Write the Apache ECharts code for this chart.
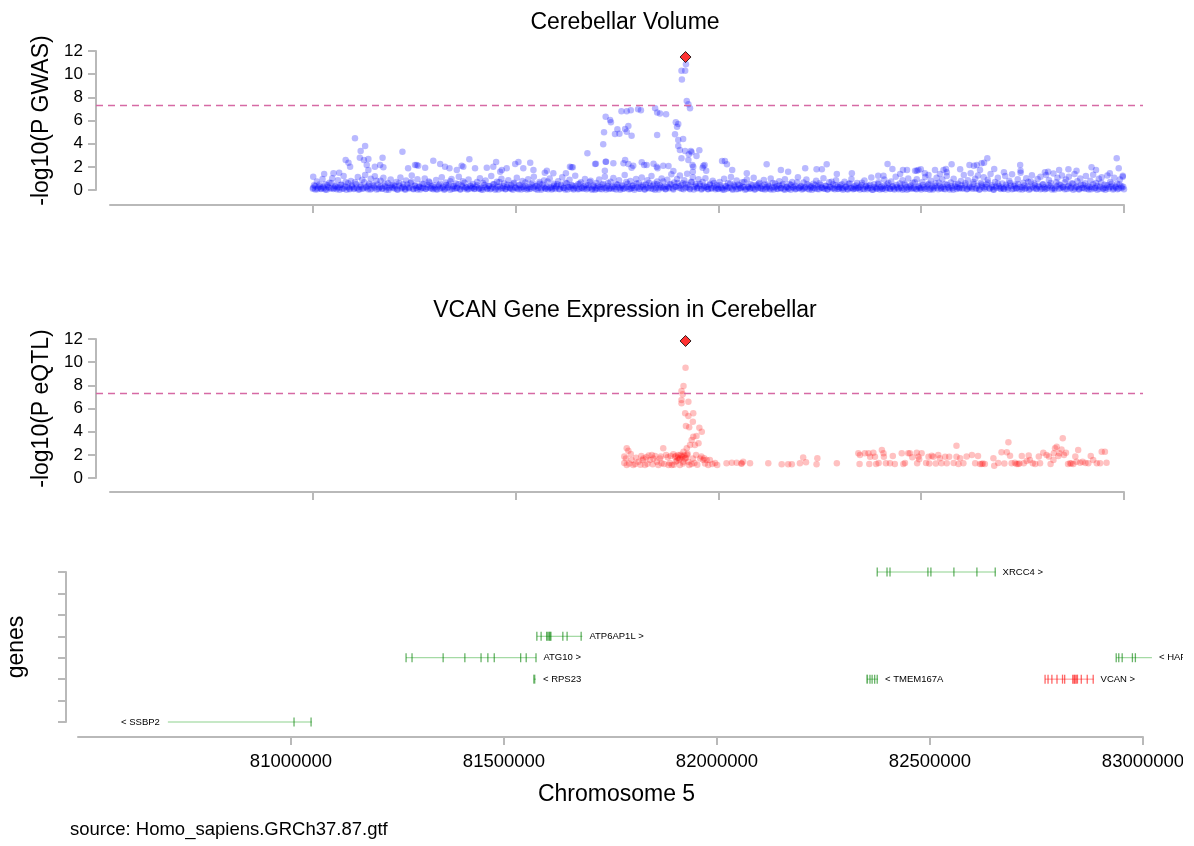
<!DOCTYPE html>
<html>
<head>
<meta charset="utf-8">
<script src="https://cdn.jsdelivr.net/npm/echarts@6/dist/echarts.min.js"></script>
<style>
  html, body { margin: 0; padding: 0; background: #fff; }
  #chart { width: 1183px; height: 846px; }
</style>
</head>
<body>
<div id="chart"></div>
<script>
// positions are in kb on chromosome 5, values are -log10(p)
const gwasBase = [
  [81000,.1],[81003,.42],[81006,.05],[81010,.73],[81013,.2],[81017,.31],[81020,.08],[81024,.95],[81027,.15],[81031,.5],[81034,.03],[81038,.26],[81041,.62],[81045,.12],[81048,1.02],[81052,.18],[81055,.37],[81059,.06],[81062,.84],[81066,.22],[81069,.45],[81073,.1],[81076,1.2],[81080,.3],[81083,.02],[81087,.58],[81090,.14],[81094,.77],[81097,.25],
  [81101,.09],[81104,.66],[81108,.2],[81111,1.12],[81115,.04],[81118,.4],[81122,.88],[81125,.16],[81129,1.3],[81132,.28],[81136,.07],[81139,.55],[81143,.97],[81146,.13],[81150,.34],[81153,1.18],[81157,.05],[81160,.48],[81164,.21],[81167,.79],[81171,.11],[81174,1.05],[81178,.32],[81181,.02],[81185,.6],[81188,.17],[81192,.9],[81195,.27],[81199,.44],
  [81202,.12],[81206,.7],[81209,.03],[81213,.36],[81216,1.08],[81220,.19],[81223,.5],[81227,.08],[81230,.83],[81234,.24],[81237,.14],[81241,.61],[81244,1.25],[81248,.06],[81251,.39],[81255,.17],[81258,.92],[81262,.29],[81265,.04],[81269,.53],[81272,.2],[81276,1.0],[81279,.1],[81283,.45],[81286,.74],[81290,.15],[81293,.33],[81297,.07],
  [81300,.22],[81304,.86],[81307,.05],[81311,.41],[81314,.13],[81318,1.1],[81321,.27],[81325,.09],[81328,.64],[81332,.18],[81335,.47],[81339,.02],[81342,.95],[81346,.3],[81349,.11],[81353,.57],[81356,.2],[81360,1.15],[81363,.06],[81367,.38],[81370,.76],[81374,.14],[81377,.25],[81381,.04],[81384,.9],[81388,.33],[81391,.16],[81395,.52],[81398,.08],
  [81402,.28],[81405,.69],[81409,.1],[81412,1.02],[81416,.19],[81419,.03],[81423,.44],[81426,.81],[81430,.15],[81433,.35],[81437,.06],[81440,1.2],[81444,.23],[81447,.5],[81451,.12],[81454,.72],[81458,.04],[81461,.31],[81465,.97],[81468,.17],[81472,.56],[81475,.09],[81479,.26],[81482,.85],[81486,.13],[81489,.4],[81493,.02],[81496,.63],
  [81500,.18],[81503,1.06],[81507,.07],[81510,.46],[81514,.21],[81517,.78],[81521,.11],[81524,.34],[81528,.05],[81531,.92],[81535,.25],[81538,.14],[81542,.6],[81545,1.14],[81549,.09],[81552,.37],[81556,.19],[81559,.7],[81563,.03],[81566,.48],[81570,.82],[81573,.16],[81577,.29],[81580,.06],[81584,.99],[81587,.23],[81591,.12],[81594,.54],[81598,.08],
  [81601,.32],[81605,.75],[81608,.1],[81612,.43],[81615,1.1],[81619,.17],[81622,.04],[81626,.58],[81629,.27],[81633,.88],[81636,.13],[81640,.36],[81643,.05],[81647,1.22],[81650,.2],[81654,.49],[81657,.09],[81661,.67],[81664,.15],[81668,.3],[81671,.96],[81675,.07],[81678,.41],[81682,.22],[81685,.8],[81689,.11],[81692,.38],[81696,.03],[81699,.6],
  [81702,.14],[81706,.9],[81709,.26],[81713,.06],[81716,.52],[81720,1.15],[81723,.19],[81727,.35],[81730,.08],[81734,.71],[81737,.12],[81741,1.04],[81744,.28],[81748,.04],[81751,.46],[81755,.84],[81758,.16],[81762,.33],[81765,.1],[81769,1.3],[81772,.21],[81776,.55],[81779,.07],[81783,.78],[81786,.18],[81790,.4],[81793,.02],[81797,.95],
  [81800,.24],[81804,.6],[81807,.11],[81811,1.08],[81814,.3],[81818,.05],[81821,.47],[81825,.85],[81828,.15],[81832,.37],[81835,1.2],[81839,.09],[81842,.53],[81846,.2],[81849,.73],[81853,.04],[81856,.42],[81860,1.0],[81863,.17],[81867,.29],[81870,.06],[81874,.88],[81877,.23],[81881,.5],[81884,1.35],[81888,.12],[81891,.65],[81895,.27],[81898,.95],
  [81902,.33],[81905,1.25],[81909,.1],[81912,.58],[81916,.85],[81919,.2],[81923,1.4],[81926,.44],[81930,.07],[81933,.72],[81937,1.1],[81940,.25],[81944,.5],[81947,.14],[81951,.92],[81954,.36],[81958,.04],[81961,.68],[81965,.18],[81968,1.02],[81972,.28],[81975,.09],[81979,.55],[81982,.16],[81986,.8],[81989,.3],[81993,.06],[81996,.42],
  [82000,.13],[82003,.7],[82007,.22],[82010,.05],[82014,.98],[82017,.34],[82021,.11],[82024,.6],[82028,.19],[82031,1.12],[82035,.03],[82038,.45],[82042,.27],[82045,.82],[82049,.08],[82052,.38],[82056,.15],[82059,.66],[82063,.24],[82066,.02],[82070,.9],[82073,.31],[82077,.12],[82080,.5],[82084,.2],[82087,1.05],[82091,.07],[82094,.43],[82098,.17],
  [82101,.62],[82105,.1],[82108,.35],[82112,.87],[82115,.05],[82119,.26],[82122,.48],[82126,.14],[82129,1.0],[82133,.21],[82136,.04],[82140,.57],[82143,.32],[82147,.09],[82150,.76],[82154,.18],[82157,.4],[82161,.06],[82164,.93],[82168,.25],[82171,.12],[82175,.52],[82178,.03],[82182,.7],[82185,.2],[82189,.36],[82192,.08],[82196,1.1],[82199,.15],
  [82203,.29],[82206,.05],[82210,.64],[82213,.17],[82217,.9],[82220,.1],[82224,.39],[82227,.22],[82231,.02],[82234,.55],[82238,.13],[82241,.8],[82245,.3],[82248,.07],[82252,.46],[82255,.19],[82259,1.02],[82262,.11],[82266,.34],[82269,.04],[82273,.67],[82276,.23],[82280,.14],[82283,.5],[82287,.06],[82290,.85],[82294,.27],[82297,.1],
  [82300,.4],[82304,.16],[82307,.03],[82311,.72],[82314,.25],[82318,.09],[82321,.53],[82325,.18],[82328,.95],[82332,.06],[82335,.31],[82339,.12],[82342,.6],[82346,.2],[82349,.04],[82353,.44],[82356,.1],[82360,.82],[82363,.27],[82367,.07],[82370,.37],[82374,.15],[82377,1.08],[82381,.02],[82384,.5],[82388,.22],[82391,.11],[82395,.66],[82398,.05],
  [82402,.3],[82405,.14],[82409,.9],[82412,.04],[82416,.47],[82419,.2],[82423,.08],[82426,.74],[82430,.33],[82433,.12],[82437,1.15],[82440,.24],[82444,.06],[82447,.56],[82451,.17],[82454,.85],[82458,.1],[82461,.4],[82465,.03],[82468,1.0],[82472,.27],[82475,.13],[82479,.62],[82482,.19],[82486,.08],[82489,.93],[82493,.35],[82496,.15],
  [82500,.05],[82503,.7],[82507,.22],[82510,1.12],[82514,.11],[82517,.45],[82521,.03],[82524,.8],[82528,.28],[82531,.16],[82535,.58],[82538,1.05],[82542,.07],[82545,.36],[82549,.19],[82552,.9],[82556,.1],[82559,.5],[82563,1.2],[82566,.24],[82570,.04],[82573,.65],[82577,.15],[82580,.98],[82584,.31],[82587,.09],[82591,.55],[82594,.2],[82598,.77],
  [82601,.12],[82605,1.3],[82608,.38],[82612,.06],[82615,.84],[82619,.21],[82622,1.45],[82626,.1],[82629,.52],[82633,.97],[82636,.17],[82640,1.25],[82643,.04],[82647,.61],[82650,.3],[82654,1.1],[82657,.08],[82661,.47],[82664,.88],[82668,.14],[82671,1.38],[82675,.25],[82678,.05],[82682,.7],[82685,.19],[82689,1.05],[82692,.33],[82696,.09],
  [82700,.56],[82703,.13],[82707,1.2],[82710,.27],[82714,.04],[82717,.8],[82721,.36],[82724,1.35],[82728,.1],[82731,.48],[82735,.18],[82738,.92],[82742,.06],[82745,1.48],[82749,.22],[82752,.62],[82756,.11],[82759,1.02],[82763,.3],[82766,.03],[82770,.74],[82773,1.28],[82777,.16],[82780,.42],[82784,.08],[82787,.95],[82791,.25],[82794,1.15],[82798,.12],
  [82801,.5],[82805,.07],[82808,1.3],[82812,.2],[82815,.85],[82819,.33],[82822,.04],[82826,1.42],[82829,.15],[82833,.66],[82836,1.05],[82840,.1],[82843,.4],[82847,1.25],[82850,.22],[82854,.06],[82857,.9],[82861,.3],[82864,1.15],[82868,.13],[82871,.58],[82875,.02],[82878,1.38],[82882,.26],[82885,.75],[82889,.09],[82892,1.0],[82896,.18],[82899,.45],
  [82903,.11],[82906,1.2],[82910,.35],[82913,.05],[82917,.8],[82920,.24],[82924,1.32],[82927,.14],[82931,.6],[82934,.03],[82938,.98],[82941,.28],[82945,1.1],[82948,.08],[82952,.46],[82955,.19],[82959,1.25],[82962,.1],[82966,.7],[82969,.3],[82973,.04],[82976,1.05],[82980,.21],[82983,.55],[82987,.12],[82990,.9],[82994,.33],[82997,1.15],[83000,.06]
];

// second layer of weak SNPs that makes the solid strip near zero
const gwasDense = [
  [81001,.2],[81006,.35],[81011,.06],[81016,.48],[81021,.12],[81026,.28],[81031,.04],[81036,.4],[81041,.16],[81046,.6],[81051,.09],[81056,.3],[81061,.22],[81066,.03],[81071,.45],[81076,.14],[81081,.7],[81086,.25],[81091,.07],[81096,.38],
  [81102,.15],[81107,.5],[81112,.04],[81117,.27],[81122,.1],[81127,.66],[81132,.19],[81137,.36],[81142,.05],[81147,.44],[81152,.21],[81157,.8],[81162,.08],[81167,.31],[81172,.13],[81177,.55],[81182,.24],[81187,.02],[81192,.42],[81197,.17],
  [81203,.33],[81208,.07],[81213,.58],[81218,.14],[81223,.26],[81228,.03],[81233,.47],[81238,.2],[81243,.72],[81248,.11],[81253,.37],[81258,.05],[81263,.29],[81268,.18],[81273,.52],[81278,.09],[81283,.23],[81288,.64],[81293,.12],[81298,.4],
  [81304,.06],[81309,.3],[81314,.55],[81319,.17],[81324,.02],[81329,.43],[81334,.25],[81339,.76],[81344,.1],[81349,.34],[81354,.15],[81359,.49],[81364,.04],[81369,.27],[81374,.62],[81379,.19],[81384,.08],[81389,.38],[81394,.22],[81399,.11],
  [81405,.41],[81410,.16],[81415,.05],[81420,.6],[81425,.23],[81430,.09],[81435,.35],[81440,.13],[81445,.5],[81450,.03],[81455,.28],[81460,.7],[81465,.14],[81470,.32],[81475,.06],[81480,.45],[81485,.2],[81490,.11],[81495,.57],[81499,.24],
  [81504,.12],[81509,.39],[81514,.04],[81519,.26],[81524,.65],[81529,.17],[81534,.08],[81539,.47],[81544,.21],[81549,.33],[81554,.02],[81559,.54],[81564,.15],[81569,.29],[81574,.1],[81579,.73],[81584,.19],[81589,.05],[81594,.36],[81599,.22],
  [81603,.5],[81608,.07],[81613,.3],[81618,.18],[81623,.62],[81628,.04],[81633,.25],[81638,.43],[81643,.13],[81648,.34],[81653,.06],[81658,.57],[81663,.2],[81668,.1],[81673,.4],[81678,.15],[81683,.68],[81688,.03],[81693,.27],[81698,.12],
  [81703,.37],[81708,.09],[81713,.46],[81718,.2],[81723,.05],[81728,.6],[81733,.16],[81738,.31],[81743,.11],[81748,.52],[81753,.24],[81758,.03],[81763,.4],[81768,.14],[81773,.7],[81778,.27],[81783,.08],[81788,.35],[81793,.18],[81798,.56],
  [81804,.1],[81809,.29],[81814,.45],[81819,.06],[81824,.21],[81829,.63],[81834,.13],[81839,.38],[81844,.02],[81849,.5],[81854,.19],[81859,.26],[81864,.74],[81869,.09],[81874,.33],[81879,.15],[81884,.48],[81889,.05],[81894,.28],[81899,.6],
  [81904,.17],[81909,.42],[81914,.07],[81919,.55],[81924,.23],[81929,.12],[81934,.66],[81939,.04],[81944,.32],[81949,.19],[81954,.51],[81959,.1],[81964,.36],[81969,.25],[81974,.06],[81979,.44],[81984,.14],[81989,.61],[81994,.2],[81999,.09],
  [82004,.4],[82009,.15],[82014,.03],[82019,.3],[82024,.22],[82029,.57],[82034,.11],[82039,.35],[82044,.06],[82049,.48],[82054,.18],[82059,.27],[82064,.69],[82069,.09],[82074,.24],[82079,.13],[82084,.42],[82089,.04],[82094,.31],[82099,.55],
  [82104,.2],[82109,.08],[82114,.47],[82119,.14],[82124,.33],[82129,.05],[82134,.6],[82139,.23],[82144,.1],[82149,.38],[82154,.16],[82159,.52],[82164,.02],[82169,.29],[82174,.12],[82179,.44],[82184,.26],[82189,.07],[82194,.64],[82199,.19],
  [82204,.35],[82209,.11],[82214,.25],[82219,.5],[82224,.04],[82229,.3],[82234,.17],[82239,.43],[82244,.08],[82249,.58],[82254,.21],[82259,.13],[82264,.37],[82269,.06],[82274,.28],[82279,.71],[82284,.15],[82289,.4],[82294,.09],[82299,.24],
  [82304,.49],[82309,.12],[82314,.3],[82319,.04],[82324,.56],[82329,.2],[82334,.1],[82339,.38],[82344,.15],[82349,.27],[82354,.62],[82359,.07],[82364,.34],[82369,.18],[82374,.45],[82379,.03],[82384,.26],[82389,.13],[82394,.52],[82399,.22],
  [82404,.08],[82409,.36],[82414,.19],[82419,.6],[82424,.11],[82429,.28],[82434,.05],[82439,.44],[82444,.16],[82449,.31],[82454,.02],[82459,.55],[82464,.23],[82469,.1],[82474,.39],[82479,.14],[82484,.67],[82489,.06],[82494,.25],[82499,.18],
  [82504,.43],[82509,.09],[82514,.3],[82519,.53],[82524,.13],[82529,.04],[82534,.35],[82539,.2],[82544,.62],[82549,.11],[82554,.27],[82559,.07],[82564,.46],[82569,.17],[82574,.32],[82579,.03],[82584,.5],[82589,.24],[82594,.12],[82599,.4],
  [82604,.16],[82609,.58],[82614,.08],[82619,.33],[82624,.21],[82629,.7],[82634,.1],[82639,.37],[82644,.05],[82649,.48],[82654,.19],[82659,.26],[82664,.64],[82669,.12],[82674,.41],[82679,.03],[82684,.3],[82689,.55],[82694,.15],[82699,.22],
  [82704,.09],[82709,.45],[82714,.2],[82719,.61],[82724,.06],[82729,.34],[82734,.14],[82739,.5],[82744,.25],[82749,.04],[82754,.39],[82759,.17],[82764,.72],[82769,.11],[82774,.29],[82779,.57],[82784,.13],[82789,.36],[82794,.07],[82799,.47],
  [82804,.23],[82809,.1],[82814,.42],[82819,.6],[82824,.15],[82829,.05],[82834,.32],[82839,.5],[82844,.18],[82849,.27],[82854,.66],[82859,.08],[82864,.38],[82869,.21],[82874,.54],[82879,.12],[82884,.3],[82889,.04],[82894,.45],[82899,.19],
  [82904,.58],[82909,.14],[82914,.26],[82919,.07],[82924,.49],[82929,.2],[82934,.35],[82939,.1],[82944,.63],[82949,.16],[82954,.03],[82959,.41],[82964,.24],[82969,.55],[82974,.12],[82979,.31],[82984,.06],[82989,.47],[82994,.18],[82998,.28]
];

const gwasHigh = [
  [81104,4.46],[81129,3.8],[81118,3.37],[81116,2.79],[81137,2.68],[81126,2.59],[81081,2.59],[81088,2.36],[81092,2.01],
  [81221,3.3],[81172,2.79],[81297,2.53],[81386,2.65],[81452,2.42],[81507,2.42],[81499,2.24],[81536,2.36],
  [81001,1.15],[81028,1.38],[81051,1.44],[81065,1.5],[81153,2.01],[81166,2.16],[81174,1.96],[81133,2.16],[81137,1.73],
  [81235,1.87],[81256,2.16],[81277,1.93],[81314,2.24],[81326,2.01],[81337,1.87],[81355,1.73],[81371,2.01],[81400,1.87],
  [81445,2.01],[81462,1.58],[81478,1.87],[81544,1.73],[81572,1.5],[81593,1.44],
  [81252,2.16],[81260,2.1],[81367,2.1],[81429,1.93],[81466,1.73],[81519,1.87],[81577,1.67],[81634,2.01],[81638,1.96],
  [81624,1.44],[81696,2.24],[81723,2.44],[81741,2.3],[81790,2.1],[81823,2.16],[81848,2.01],[81864,2.1],
  [81938,2.01],[81937,1.58],[81963,2.1],[81970,1.67],[82016,2.5],[82119,2.22],[82070,1.44],[82154,1.73],[82172,1.58],
  [81920,10.85],[81909,10.3],[81918,10.3],[81910,9.55],[81922,7.68],[81926,7.4],[81930,7.05],
  [81761,6.8],[81774,6.8],[81784,6.88],[81802,6.97],[81809,6.88],[81844,7.05],[81849,6.7],[81856,6.6],[81871,6.53],
  [81722,6.33],[81733,6.04],[81735,5.84],[81718,4.98],[81751,5.24],[81745,4.83],[81756,4.86],[81770,5.27],[81778,5.53],
  [81774,5.03],[81786,4.69],[81716,3.94],[81677,3.17],[81849,4.75],
  [81895,5.84],[81901,5.7],[81898,5.47],[81893,4.81],[81901,4.32],[81913,4.4],[81901,3.8],[81905,3.45],[81918,3.37],
  [81932,3.37],[81927,3.08],[81934,3.25],[81953,3.43],[81946,2.94],[81909,2.74],[81926,2.59],[81936,2.16],[81966,2.16],
  [81961,1.93],[82009,2.5],[82021,2.22],[82034,1.73],[81770,2.59],[81766,2.3],[81778,2.24],[81786,1.93],[81722,2.44],
  [81698,2.27],[81720,1.67],[81811,2.39],[81817,2.16],[81840,2.27],[81850,1.87],[81877,2.07],[81889,1.64],[81641,1.96],
  [82267,2.22],[82417,2.24],[82429,1.81],[82455,1.73],[82465,1.73],[82485,1.67],[82493,1.73],[82499,1.79],[82534,1.73],
  [82555,1.73],[82561,1.81],[82575,2.22],[82596,1.79],[82619,2.16],[82630,2.1],[82637,2.16],[82645,1.73],[82649,2.3],
  [82655,2.36],[82663,2.74],[82680,1.81],[82704,1.53],[82744,2.16],[82745,1.67],[82805,1.53],[82813,1.58],[82840,1.73],
  [82863,1.79],[82883,1.67],[82920,1.96],[82931,1.73],[82982,2.74],[82987,1.87],[82997,1.23],[82965,1.44],
  [82214,1.87],[82242,1.79],[82255,1.79],[82292,1.38],[82329,1.44],[82394,1.23],[82407,1.23],[82448,1.38],[82489,1.67],
  [82509,1.44],[82518,1.3],[82546,1.38],[82563,1.53]
];

const gwasLead = [81919, 11.48];

const eqtlSnps = [
  [81774,2.56],[81778,2.36],[81774,1.12],[81772,1.69],[81784,2.07],[81786,1.55],[81790,1.12],[81803,1.41],[81813,1.55],
  [81815,1.69],[81819,1.12],[81831,1.55],[81836,1.99],[81840,1.69],[81844,1.89],[81848,1.41],[81852,1.12],[81856,1.69],
  [81860,1.27],[81864,2.56],[81871,1.99],[81877,1.12],[81885,1.12],[81893,1.84],[81895,1.41],[81901,1.99],[81905,1.69],
  [81909,1.89],[81905,1.12],[81914,2.27],[81914,1.41],[81918,1.69],[81922,2.56],[81923,1.99],[81926,1.41],[81930,2.85],
  [81928,1.12],[81934,3.28],[81938,3.57],[81937,1.69],[81942,2.85],[81946,3.63],[81945,1.99],[81951,3.0],[81953,4.34],
  [81959,4.0],[81955,1.69],[81963,1.55],[81971,1.55],[81975,1.12],[81979,1.55],[81997,1.12],
  [81919,9.52],[81914,7.94],[81909,7.51],[81912,7.23],[81909,6.73],[81909,6.45],[81926,6.59],[81918,5.59],[81926,5.35],
  [81938,5.59],[81937,4.86],[81920,4.49],[81928,4.38],
  [81895,1.9],[81900,1.75],[81903,1.6],[81907,2.0],[81911,1.8],[81916,1.95],[81920,1.75],[81924,2.1],[81898,1.5],[81913,1.25],
  [81768,1.3],[81780,1.25],[81795,1.2],[81808,1.15],[81825,1.22],[81838,1.18],[81866,1.2],[81880,1.3],[81890,1.15],
  [81934,1.2],[81941,1.3],[81948,1.15],[81967,1.25],[81985,1.2],[81992,1.3],[81768,1.85],[81797,1.75],[81810,1.9],
  [81822,1.8],[81828,1.95],[81858,1.85],[81875,1.8],[81882,1.9],[81889,2.05],[81958,1.85],[81965,1.7],
  [82020,1.27],[82033,1.32],[82045,1.32],[82057,1.27],[82057,1.24],[82061,1.41],[82078,1.27],[82123,1.27],[82156,1.18],
  [82172,1.18],[82181,1.18],[82201,1.27],[82209,1.76],[82216,1.35],[82244,1.7],[82242,1.18],[82292,1.27],
  [82345,2.13],[82349,1.99],[82348,1.21],[82361,2.13],[82370,2.13],[82374,1.84],[82372,1.21],[82382,2.19],[82386,1.84],
  [82389,1.21],[82403,2.42],[82407,2.13],[82408,1.84],[82413,1.27],[82423,1.27],[82435,1.21],[82452,2.13],[82456,1.21],
  [82468,2.13],[82472,2.13],[82489,2.19],[82493,1.84],[82490,1.27],[82495,1.61],[82501,2.13],[82518,1.84],[82526,1.93],
  [82530,1.84],[82542,1.99],[82546,1.7],[82550,1.27],[82559,1.84],[82563,1.27],[82569,1.84],[82587,2.79],[82587,1.84],
  [82592,1.21],[82596,1.7],[82604,1.27],[82625,1.99],[82633,1.27],
  [82649,1.21],[82657,1.21],[82678,1.7],[82680,1.06],[82698,2.22],[82711,2.22],[82715,3.08],[82719,1.93],[82723,1.27],
  [82731,1.32],[82739,1.21],[82748,1.9],[82753,1.27],[82760,1.47],[82768,1.55],[82775,1.27],[82781,1.21],[82793,1.27],
  [82801,2.19],[82809,1.99],[82819,1.21],[82826,1.55],[82827,2.13],[82830,2.56],[82834,2.7],[82841,2.13],[82846,2.47],
  [82849,3.43],[82852,1.99],[82857,2.19],[82867,1.27],[82875,1.21],[82883,1.41],[82887,2.42],[82892,1.32],[82898,1.41],
  [82912,1.27],[82924,1.55],[82933,1.27],[82941,1.27],[82945,2.27],[82953,2.27],[82957,1.32],
  [82645,1.2],[82652,1.25],[82735,1.2],[82742,1.25],[82862,1.2],[82870,1.25],[82520,1.25],[82460,1.3],[82395,1.3],
  [82430,1.9],[82478,1.8],[82512,1.3],[82536,1.25],[82580,1.3],[82612,1.85],[82640,1.9],[82690,1.3],[82705,1.25],
  [82765,1.95],[82790,1.85],[82815,1.85],[82838,1.9],[82880,1.85],[82905,1.3],[82918,1.9]
];

const eqtlLead = [81919, 11.83];
const gwsThreshold = 7.3;

const tickPositions = [81000000, 81500000, 82000000, 82500000, 83000000];
const geneRowTicks = [0, 1, 2, 3, 4, 5, 6, 7];

const geneNames = ['SSBP2', 'ATG10', 'RPS23', 'ATP6AP1L', 'XRCC4', 'TMEM167A', 'VCAN', 'HAPLN1'];
const geneStart = [80711, 81270, 81570, 81577, 82376, 82352, 82770, 82937];
const geneEnd = [81049, 81576, 81575, 81684, 82654, 82378, 82884, 83021];
const geneRow = [0, 3, 2, 4, 7, 2, 2, 3];
const geneStrand = ['<', '>', '<', '>', '>', '<', '>', '<'];
const geneExons = [
  [[81007, 81008], [81047, 81049]],
  [[81270, 81271], [81284, 81285], [81357, 81358], [81408, 81409], [81446, 81447], [81462, 81463], [81477, 81478], [81539, 81542], [81552, 81553], [81575, 81576]],
  [[81570, 81575]],
  [[81577, 81578], [81587, 81588], [81600, 81601], [81603, 81604], [81606, 81607], [81608, 81609], [81610, 81611], [81638, 81639], [81648, 81649], [81681, 81684]],
  [[82376, 82377], [82399, 82400], [82406, 82407], [82495, 82496], [82502, 82503], [82556, 82557], [82610, 82611], [82653, 82654]],
  [[82352, 82356], [82359, 82360], [82364, 82365], [82370, 82371], [82376, 82377]],
  [[82770, 82771], [82777, 82778], [82786, 82787], [82798, 82799], [82811, 82813], [82816, 82818], [82835, 82837], [82838, 82840], [82840, 82842], [82843, 82845], [82846, 82848], [82855, 82856], [82869, 82870], [82883, 82884]],
  [[82937, 82940], [82943, 82945], [82951, 82952], [82975, 82976], [82982, 82983]]
];
const highlightGene = 'VCAN';
const labelOnLeft = ['SSBP2'];

const FONT = 'Liberation Sans, Arial, sans-serif';
const AXIS_GRAY = '#b9b9b9';
const toBp = p => [p[0] * 1000, p[1]];

const chart = echarts.init(document.getElementById('chart'));

const hiddenAxis = (gridIndex, min, max) => ({
  gridIndex, type: 'value', min, max, show: false
});

const pvalAxis = (gridIndex, name) => ({
  gridIndex, type: 'value', min: 0, max: 12, interval: 2,
  name, nameLocation: 'middle', nameGap: 42,
  nameTextStyle: { fontSize: 23, color: '#000', fontFamily: FONT },
  axisLine: { show: true, lineStyle: { color: AXIS_GRAY, width: 2 } },
  axisTick: { show: true, length: 8, lineStyle: { color: AXIS_GRAY, width: 2 } },
  axisLabel: { fontSize: 17, color: '#000', margin: 13, fontFamily: FONT },
  splitLine: { show: false }
});

const posAxis = (gridIndex, offset, labels) => ({
  gridIndex, type: 'value', min: 80500000, max: 83000000, offset,
  axisLine: { show: true, onZero: false, lineStyle: { color: AXIS_GRAY, width: 2 } },
  axisTick: { show: true, length: 8, customValues: tickPositions, lineStyle: { color: AXIS_GRAY, width: 2 } },
  axisLabel: labels
    ? { show: true, customValues: tickPositions, fontSize: 18.5, color: '#000', margin: 15, fontFamily: FONT, formatter: v => String(v) }
    : { show: false },
  splitLine: { show: false }
});

const snpSeries = (xi, yi, data, color) => ({
  type: 'scatter', xAxisIndex: xi, yAxisIndex: yi,
  data: data.map(toBp), symbolSize: 6.5, silent: true,
  itemStyle: { color }
});

const leadSeries = (xi, yi, point) => ({
  type: 'scatter', xAxisIndex: xi, yAxisIndex: yi,
  data: [toBp(point)], symbol: 'diamond', symbolSize: 11, silent: true, z: 5,
  itemStyle: { color: '#ff0000', borderColor: '#000', borderWidth: 1 }
});

const thresholdSeries = (xi, yi) => ({
  type: 'line', xAxisIndex: xi, yAxisIndex: yi,
  data: [[0, gwsThreshold], [1, gwsThreshold]], symbol: 'none', silent: true,
  lineStyle: { color: '#d66aa5', width: 1.5, type: [7, 5] }
});

function renderGene(params, api) {
  const i = api.value(3);
  const row = api.value(1);
  const a = api.coord([api.value(0), row]);
  const b = api.coord([api.value(2), row]);
  const hot = geneNames[i] === highlightGene;
  const lineColor = hot ? 'rgba(255,0,0,0.45)' : 'rgba(0,150,0,0.45)';
  const exonColor = hot ? 'rgba(255,0,0,0.6)' : 'rgba(0,128,0,0.6)';
  const children = [{
    type: 'line',
    shape: { x1: a[0], y1: a[1], x2: b[0], y2: b[1] },
    style: { stroke: lineColor, lineWidth: 1 }
  }];
  geneExons[i].forEach(ex => {
    const x0 = api.coord([ex[0] * 1000, row])[0];
    const x1 = api.coord([ex[1] * 1000, row])[0];
    children.push({
      type: 'rect',
      shape: { x: x0 - 0.6, y: a[1] - 4.5, width: Math.max(1.3, x1 - x0), height: 9 },
      style: { fill: exonColor }
    });
  });
  const name = geneNames[i];
  const text = geneStrand[i] === '<' ? '< ' + name : name + ' >';
  const left = labelOnLeft.includes(name);
  children.push({
    type: 'text',
    style: {
      text, x: left ? a[0] - 8 : b[0] + 7, y: a[1],
      align: left ? 'right' : 'left', verticalAlign: 'middle',
      fill: '#000', font: '9.5px ' + FONT
    }
  });
  return { type: 'group', children };
}

const gridBox = (left, top, width, height) => ({ left, top, width, height, outerBoundsMode: 'none', containLabel: false });

const option = {
  animation: false,
  textStyle: { fontFamily: FONT },
  title: [
    { text: 'Cerebellar Volume', left: 620, top: 6, textAlign: 'center',
      textStyle: { fontSize: 23, fontWeight: 'normal', color: '#000', fontFamily: FONT } },
    { text: 'VCAN Gene Expression in Cerebellar', left: 620, top: 294, textAlign: 'center',
      textStyle: { fontSize: 23, fontWeight: 'normal', color: '#000', fontFamily: FONT } }
  ],
  grid: [
    gridBox(110, 51, 1014, 139),
    gridBox(96, 51, 1047, 139),
    gridBox(110, 339, 1014, 139),
    gridBox(96, 339, 1047, 139),
    gridBox(78, 572, 1065, 150)
  ],
  xAxis: [
    posAxis(0, 15, false),
    hiddenAxis(1, 0, 1),
    posAxis(2, 14, false),
    hiddenAxis(3, 0, 1),
    Object.assign(posAxis(4, 15, true), {
      name: 'Chromosome 5', nameLocation: 'middle', nameGap: 46,
      nameTextStyle: { fontSize: 23, color: '#000', fontFamily: FONT, padding: [0, 0, 0, 12] }
    })
  ],
  yAxis: [
    hiddenAxis(0, 0, 12),
    pvalAxis(1, '-log10(P GWAS)'),
    hiddenAxis(2, 0, 12),
    pvalAxis(3, '-log10(P eQTL)'),
    {
      gridIndex: 4, type: 'value', min: 0, max: 7, interval: 1, offset: 12,
      name: 'genes', nameLocation: 'middle', nameGap: 38,
      nameTextStyle: { fontSize: 23, color: '#000', fontFamily: FONT },
      axisLine: { show: true, lineStyle: { color: AXIS_GRAY, width: 2 } },
      axisTick: { show: true, length: 8, customValues: geneRowTicks, lineStyle: { color: AXIS_GRAY, width: 2 } },
      axisLabel: { show: false },
      splitLine: { show: false }
    }
  ],
  graphic: [{
    type: 'text', left: 70, top: 820,
    style: { text: 'source: Homo_sapiens.GRCh37.87.gtf', font: '18.5px ' + FONT, fill: '#000' }
  }],
  series: [
    thresholdSeries(1, 1),
    snpSeries(0, 0, gwasBase.concat(gwasDense, gwasHigh), 'rgba(0,0,255,0.34)'),
    leadSeries(0, 0, gwasLead),
    thresholdSeries(3, 3),
    snpSeries(2, 2, eqtlSnps, 'rgba(255,0,0,0.3)'),
    leadSeries(2, 2, eqtlLead),
    {
      type: 'custom', xAxisIndex: 4, yAxisIndex: 4, silent: true, clip: false,
      renderItem: renderGene,
      data: geneNames.map((n, i) => [geneStart[i] * 1000, geneRow[i], geneEnd[i] * 1000, i])
    }
  ]
};

chart.setOption(option);
</script>
</body>
</html>
